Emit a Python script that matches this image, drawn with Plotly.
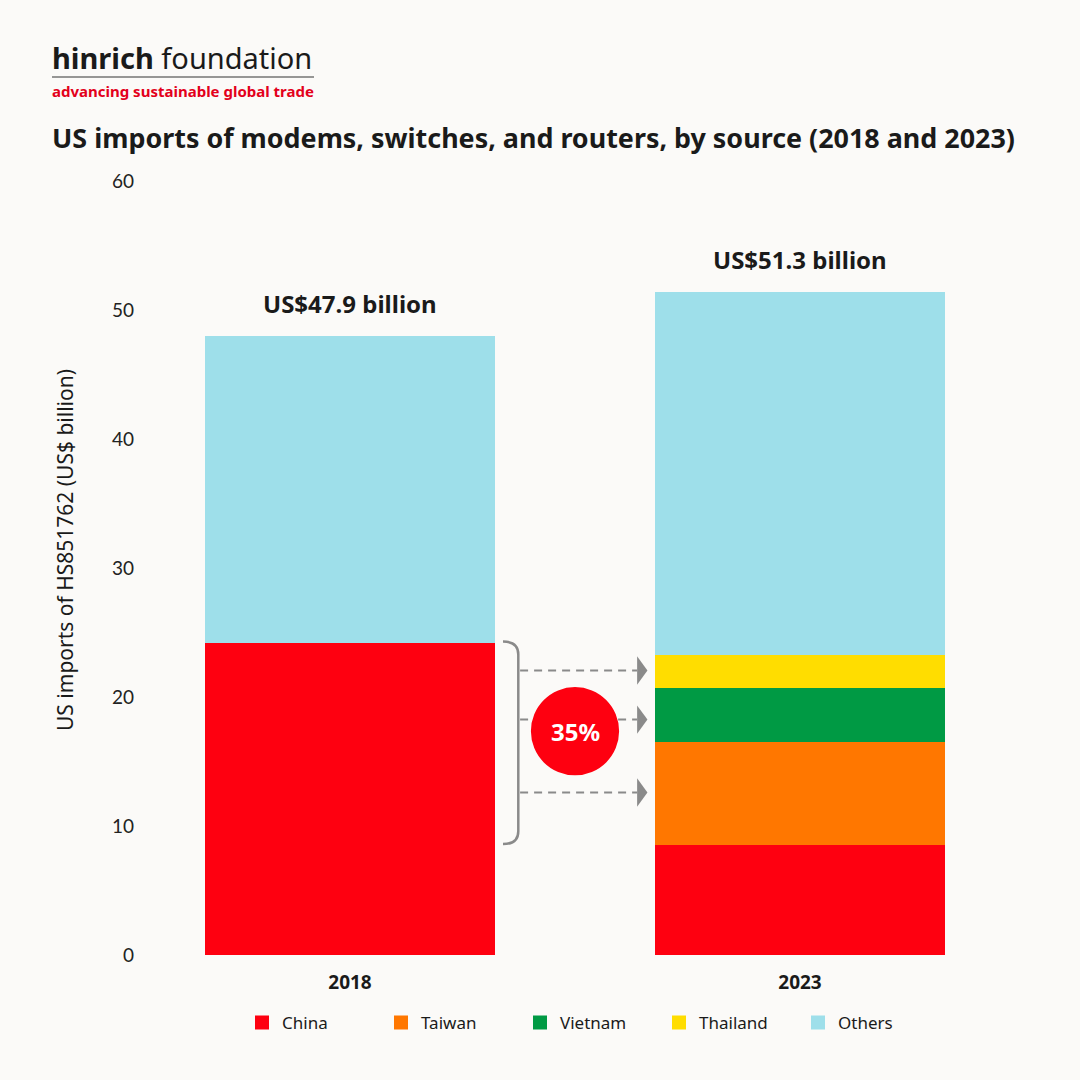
import plotly.graph_objects as go

years = ["2018", "2023"]
sources = ["China", "Taiwan", "Vietnam", "Thailand", "Others"]
values = {
    "China":    [24.3, 8.6],
    "Taiwan":   [0.0, 8.0],
    "Vietnam":  [0.0, 4.2],
    "Thailand": [0.0, 2.5],
    "Others":   [23.6, 28.0],
}
totals = [47.9, 51.3]
total_labels = ["US$47.9 billion", "US$51.3 billion"]
share_label = "35%"
colors = {
    "China": "#FE0010",
    "Taiwan": "#FF7700",
    "Vietnam": "#009A44",
    "Thailand": "#FFDD00",
    "Others": "#9EDFEA",
}

BG = "#FBFAF8"
GRAY = "#8A8A8A"
xpos = list(range(len(years)))
BAR_W = 0.638

W, H = 1080, 1080
ML, MR, MT, MB = 145, 0, 181, 125
PW, PH = W - ML - MR, H - MT - MB

fig = go.Figure()
for s in sources:
    fig.add_trace(go.Bar(
        x=xpos, y=values[s], name=s, width=BAR_W,
        marker=dict(color=colors[s], line=dict(width=2, color=colors[s])),
        hoverinfo="name+y",
    ))

china18 = values["China"][0]
china23 = values["China"][1]
tw_top = china23 + values["Taiwan"][1]
vn_top = tw_top + values["Vietnam"][1]
th_top = vn_top + values["Thailand"][1]
mids = [(china23 + tw_top) / 2, (tw_top + vn_top) / 2 - 0.45, (vn_top + th_top) / 2]

shapes = []
bx0, bx1 = 0.34, 0.374
r = 1.0
shapes.append(dict(
    type="path", xref="x", yref="y",
    path=f"M {bx0},{china18} Q {bx1},{china18} {bx1},{china18 - r} L {bx1},{china23 + r} Q {bx1},{china23} {bx0},{china23}",
    line=dict(color=GRAY, width=2.5),
))
ax0, ax1, tip = 0.378, 0.638, 0.661
for m in mids:
    shapes.append(dict(type="line", xref="x", yref="y", x0=ax0, x1=ax1, y0=m, y1=m,
                       line=dict(color=GRAY, width=2, dash="8px,6px")))
    shapes.append(dict(type="path", xref="x", yref="y",
                       path=f"M {ax1},{m + 1.1} L {tip},{m} L {ax1},{m - 1.1} Z",
                       fillcolor=GRAY, line=dict(width=0)))
cx, cy = 0.5, 17.35
shapes.append(dict(type="circle", xref="x", yref="y",
                   x0=cx - 0.098, x1=cx + 0.098, y0=cy - 3.42, y1=cy + 3.42,
                   fillcolor="#FE0010", line=dict(width=0), layer="above"))


def px(xp):
    return (xp - ML) / PW


def py(yp):
    return (H - MB - yp) / PH


shapes.append(dict(type="line", xref="paper", yref="paper",
                   x0=px(52), x1=px(314), y0=py(77), y1=py(77),
                   line=dict(color="#333333", width=1.2)))

annotations = []
for i, t in enumerate(total_labels):
    annotations.append(dict(x=xpos[i], y=totals[i], xref="x", yref="y", text=f"<b>{t}</b>",
                            showarrow=False, yanchor="bottom", yshift=15,
                            font=dict(family="Noto Sans", size=24, color="#1A1A1A")))
annotations.append(dict(x=cx, y=cy, xref="x", yref="y", text=f"<b>{share_label}</b>",
                        showarrow=False, font=dict(family="Noto Sans", size=24, color="white")))

annotations += [
    dict(x=px(50), y=py(57), xref="paper", yref="paper", xanchor="left", yanchor="middle",
         text="<b>hinrich</b> foundation", showarrow=False,
         font=dict(family="Noto Sans", size=29, color="#1A1A1A")),
    dict(x=px(50), y=py(91), xref="paper", yref="paper", xanchor="left", yanchor="middle",
         text="<b>advancing sustainable global trade</b>", showarrow=False,
         font=dict(family="Noto Sans", size=15, color="#E3001B")),
    dict(x=px(50), y=py(137), xref="paper", yref="paper", xanchor="left", yanchor="middle",
         text="<b>US imports of modems, switches, and routers, by source (2018 and 2023)</b>",
         showarrow=False, font=dict(family="Noto Sans", size=26.9, color="#1A1A1A")),
    dict(x=px(65), y=py(550), xref="paper", yref="paper", xanchor="center", yanchor="middle",
         text="US imports of HS851762 (US$ billion)", textangle=-90, showarrow=False,
         font=dict(family="Noto Sans", size=21, color="#1A1A1A")),
]

fig.update_layout(
    width=W, height=H,
    paper_bgcolor=BG, plot_bgcolor=BG,
    barmode="stack",
    margin=dict(l=ML, r=MR, t=MT, b=MB),
    showlegend=True,
    legend=dict(orientation="h", xref="container", yref="container",
                x=242 / W, xanchor="left", y=(H - 1023) / H, yanchor="middle",
                entrywidth=94, entrywidthmode="pixels",
                font=dict(family="Noto Sans", size=17, color="#1A1A1A"),
                bgcolor="rgba(0,0,0,0)", traceorder="normal"),
    xaxis=dict(range=[-(350 - ML) / 450, -(350 - ML) / 450 + PW / 450],
               tickvals=xpos, ticktext=[f"<b>{y}</b>" for y in years],
               showgrid=False, zeroline=False, showline=False, ticks="",
               ticklabelstandoff=14,
               tickfont=dict(family="Noto Sans", size=19, color="#1A1A1A")),
    yaxis=dict(range=[0, 60], dtick=10, showgrid=False, zeroline=False, showline=False,
               ticks="", ticklabelstandoff=10,
               tickfont=dict(family="Lato", size=19, color="#222222")),
    shapes=shapes, annotations=annotations,
)

fig.write_html("out.html", config={"displayModeBar": False},
               post_script="document.body.style.margin='0';document.body.style.background='#FBFAF8';")
